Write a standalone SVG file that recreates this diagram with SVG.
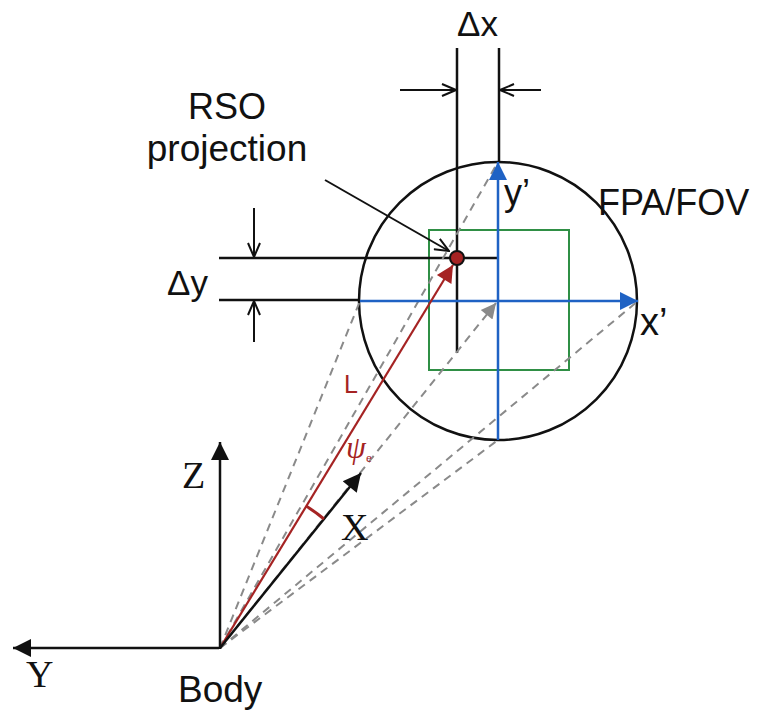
<svg xmlns="http://www.w3.org/2000/svg" width="760" height="715" viewBox="0 0 760 715">
<style>
.blk{stroke:#111;stroke-width:2.5;fill:none}
.blu{stroke:#1f62c4;stroke-width:2.5;fill:none}
.grn{stroke:#2f8f45;stroke-width:2;fill:none}
.red{stroke:#a52323;stroke-width:2.2;fill:none}
.dash{stroke:#8a8a8a;stroke-width:2;stroke-dasharray:8 6;fill:none}
.sans{font-family:"Liberation Sans",Arial,sans-serif;fill:#111}
.serif{font-family:"Liberation Serif","Times New Roman",serif;fill:#111}
</style>
<defs>
<marker id="aBlk" viewBox="0 0 10 10" refX="10" refY="5" markerUnits="userSpaceOnUse" markerWidth="24" markerHeight="18" orient="auto"><path d="M0,0 L10,5 L0,10 z" fill="#111"/></marker>
<marker id="aBlu" viewBox="0 0 10 10" refX="10" refY="5" markerUnits="userSpaceOnUse" markerWidth="25" markerHeight="18" orient="auto"><path d="M0,0 L10,5 L0,10 z" fill="#1f62c4"/></marker>
<marker id="aRed" viewBox="0 0 10 10" refX="10" refY="5" markerUnits="userSpaceOnUse" markerWidth="24" markerHeight="17" orient="auto"><path d="M0,0 L10,5 L0,10 z" fill="#a52323"/></marker>
<marker id="aGry" viewBox="0 0 10 10" refX="10" refY="5" markerUnits="userSpaceOnUse" markerWidth="22" markerHeight="15" orient="auto"><path d="M0,0 L10,5 L0,10 z" fill="#8a8a8a"/></marker>
<marker id="aOpen" viewBox="0 0 16 14" refX="15" refY="7" markerUnits="userSpaceOnUse" markerWidth="16" markerHeight="14" orient="auto"><path d="M1,1 L15,7 L1,13" fill="none" stroke="#111" stroke-width="2"/></marker>
</defs>

<g id="fov">
<circle cx="498" cy="301" r="139" class="blk"/>
<rect x="429" y="230" width="140" height="140" class="grn"/>
<text class="sans" x="598" y="215" font-size="36">FPA/FOV</text>
</g>

<g id="guides">
<line x1="457" y1="48" x2="457" y2="353" class="blk"/>
<line x1="499" y1="48" x2="499" y2="163" class="blk"/>
<line x1="219" y1="258" x2="498" y2="258" class="blk"/>
<line x1="219" y1="300" x2="360" y2="300" class="blk"/>
</g>

<g id="connectors">
<line x1="220" y1="648" x2="360" y2="301" class="dash"/>
<line x1="220" y1="648" x2="498" y2="162" class="dash"/>
<line x1="220" y1="648" x2="638" y2="301" class="dash"/>
<line x1="220" y1="648" x2="498" y2="440" class="dash"/>
<line x1="220" y1="648" x2="496" y2="303" class="dash" marker-end="url(#aGry)"/>
<line x1="498" y1="440" x2="498" y2="162" class="blu" marker-end="url(#aBlu)"/>
<line x1="360" y1="301" x2="638" y2="301" class="blu" marker-end="url(#aBlu)"/>
<line x1="220" y1="648" x2="453" y2="265" class="red" marker-end="url(#aRed)"/>
<line x1="220" y1="648" x2="361" y2="473" class="blk" marker-end="url(#aBlk)"/>
<line x1="220" y1="649" x2="220" y2="442" class="blk" marker-end="url(#aBlk)"/>
<line x1="219" y1="648" x2="13" y2="648" class="blk" marker-end="url(#aBlk)"/>
<path d="M306,506 A166,166 0 0,1 324,519" stroke="#a52323" stroke-width="3" fill="none"/>
<line x1="325" y1="180" x2="449" y2="251" stroke="#111" stroke-width="2" marker-end="url(#aOpen)"/>
<line x1="400" y1="90" x2="456" y2="90" stroke="#111" stroke-width="2" marker-end="url(#aOpen)"/>
<line x1="541" y1="90" x2="500" y2="90" stroke="#111" stroke-width="2" marker-end="url(#aOpen)"/>
<line x1="254" y1="208" x2="254" y2="257" stroke="#111" stroke-width="2" marker-end="url(#aOpen)"/>
<line x1="254" y1="342" x2="254" y2="301" stroke="#111" stroke-width="2" marker-end="url(#aOpen)"/>
</g>

<g id="rso">
<circle cx="457" cy="258" r="7" fill="#a52323" stroke="#111" stroke-width="2"/>
<text class="sans" x="227" y="119" font-size="36" text-anchor="middle">RSO</text>
<text class="sans" x="227" y="161" font-size="37" text-anchor="middle">projection</text>
</g>

<g id="labels">
<text class="sans" x="457" y="36" font-size="35">Δx</text>
<text class="sans" x="167" y="295" font-size="35">Δy</text>
<text class="sans" x="504" y="205" font-size="36">y’</text>
<text class="sans" x="640" y="335" font-size="38">x’</text>
<text class="sans" x="344" y="393" font-size="25" style="fill:#a52323">L</text>
<text class="serif" x="346" y="458" font-size="32" font-style="italic" style="fill:#a52323">ψ<tspan font-size="13" font-style="normal" dy="4">e</tspan></text>
<text class="serif" x="341" y="540" font-size="38">X</text>
<text class="serif" x="182" y="488" font-size="38">Z</text>
<text class="serif" x="26" y="687" font-size="38">Y</text>
<text class="sans" x="178" y="702" font-size="37">Body</text>
</g>
</svg>
